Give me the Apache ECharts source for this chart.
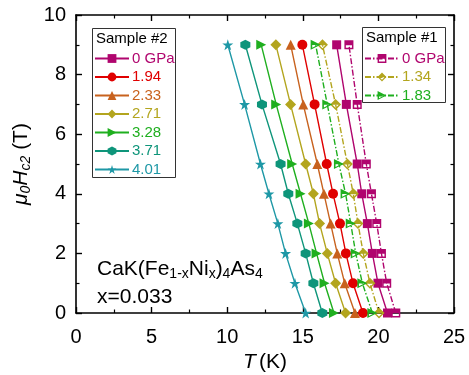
<!DOCTYPE html>
<html><head><meta charset="utf-8">
<script src="https://cdn.jsdelivr.net/npm/echarts@6/dist/echarts.min.js"></script>
<style>html,body{margin:0;padding:0;background:#fff}#c{width:469px;height:375px}</style>
</head><body><div id="c"></div>
<script>
// Magnetic field values (T)
const fields = [0, 1, 2, 3, 4, 5, 7, 9];
// Sample #2 temperatures (K) at each field
const s2_0    = [20.60, 19.97, 19.60, 19.27, 18.90, 18.60, 17.88, 17.24];
const s2_194  = [18.98, 18.32, 17.85, 17.46, 17.00, 16.58, 15.78, 14.97];
const s2_233  = [18.45, 17.77, 17.28, 16.84, 16.40, 15.96, 15.03, 14.20];
const s2_271  = [17.83, 17.17, 16.62, 16.11, 15.70, 15.19, 14.19, 13.22];
const s2_328  = [17.06, 16.44, 15.91, 15.40, 14.85, 14.30, 13.24, 12.25];
const s2_371  = [16.29, 15.70, 15.19, 14.64, 14.04, 13.53, 12.30, 11.20];
const s2_401  = [15.19, 14.48, 13.86, 13.35, 12.76, 12.20, 11.15, 10.04];
// Sample #1 temperatures (K)
const s1_0    = [21.15, 20.55, 20.20, 19.89, 19.54, 19.20, 18.60, 18.05];
const s1_134  = [20.04, 19.44, 19.00, 18.65, 18.34, 17.95, 17.17, 16.30];
const s1_183  = [19.60, 18.94, 18.50, 18.17, 17.83, 17.39, 16.62, 15.85];
const s2Labels = ['0 GPa', '1.94', '2.33', '2.71', '3.28', '3.71', '4.01'];
const s1Labels = ['0 GPa', '1.34', '1.83'];
const xTicks = [0, 5, 10, 15, 20, 25];
const yTicks = [0, 2, 4, 6, 8, 10];

const C = {
  p0: '#B0056E', p194: '#E00000', p233: '#C8621E', p271: '#B3A51E',
  p328: '#1FAF1F', p371: '#0E957A', p401: '#1E98A6'
};
const SYM = {
  rect: 'rect', circle: 'circle', tri: 'triangle', dia: 'diamond',
  right: 'path://M0,0 L10,5 L0,10 Z',
  hex: 'path://M5,0 L9.33,2.5 L9.33,7.5 L5,10 L0.67,7.5 L0.67,2.5 Z',
  star: 'path://M5,0 L6.18,3.62 L10,3.62 L6.91,5.86 L8.09,9.5 L5,7.24 L1.91,9.5 L3.09,5.86 L0,3.62 L3.82,3.62 Z',
  halfRect: 'path://M0,0 L10,0 L10,10 L0,10 Z M1.6,5.4 L1.6,8.4 L8.4,8.4 L8.4,5.4 Z',
  halfDia: 'path://M5,0 L10,5 L5,10 L0,5 Z M2.2,5.4 L5,8.2 L7.8,5.4 Z',
  halfRight: 'path://M0,0 L10,5 L0,10 Z M1.6,5.3 L1.6,8.0 L6.8,5.3 Z'
};
function pairs(ts) { return ts.map((t, i) => [t, fields[i]]); }
function mk(name, ts, color, sym, size, dashed) {
  return {
    name: name, type: 'line', data: pairs(ts), symbol: sym, symbolSize: size,
    color: color,
    itemStyle: { color: color, borderWidth: 0 },
    lineStyle: { color: color, width: 1.4, type: dashed ? [6, 2, 1.5, 2] : 'solid' },
    emphasis: { disabled: true }, animation: false, z: 3
  };
}
const series = [
  mk('S2 ' + s2Labels[0], s2_0,   C.p0,   SYM.rect, 9),
  mk('S2 ' + s2Labels[1], s2_194, C.p194, SYM.circle, 10),
  mk('S2 ' + s2Labels[2], s2_233, C.p233, SYM.tri, 10),
  mk('S2 ' + s2Labels[3], s2_271, C.p271, SYM.dia, 11),
  mk('S2 ' + s2Labels[4], s2_328, C.p328, SYM.right, 10),
  mk('S2 ' + s2Labels[5], s2_371, C.p371, SYM.hex, 10),
  mk('S2 ' + s2Labels[6], s2_401, C.p401, SYM.star, 11),
  mk('S1 ' + s1Labels[0], s1_0,   C.p0,   SYM.halfRect, 9, true),
  mk('S1 ' + s1Labels[1], s1_134, C.p271, SYM.halfDia, 11, true),
  mk('S1 ' + s1Labels[2], s1_183, C.p328, SYM.halfRight, 10, true)
];
const s2Colors = [C.p0, C.p194, C.p233, C.p271, C.p328, C.p371, C.p401];
const s1Colors = [C.p0, C.p271, C.p328];
const FONT = 'Liberation Sans, Arial, sans-serif';
const rich = {
  n: { fontSize: 21, fontFamily: FONT, color: '#000', lineHeight: 24 },
  i: { fontSize: 21, fontFamily: FONT, fontStyle: 'italic', color: '#000', lineHeight: 24 },
  sub: { fontSize: 14, fontFamily: FONT, color: '#000', verticalAlign: 'bottom', padding: [11, 0, 0, 0], lineHeight: 15 },
  isub: { fontSize: 14, fontFamily: FONT, fontStyle: 'italic', color: '#000', verticalAlign: 'bottom', padding: [11, 0, 0, 0], lineHeight: 15 }
};
function baseAxis(extra) {
  return Object.assign({
    type: 'value', splitLine: { show: false },
    axisLine: { show: true, onZero: false, lineStyle: { color: '#000', width: 1.6 } },
    axisTick: { show: true, inside: true, length: 6, lineStyle: { color: '#000', width: 1.4 } },
    minorTick: { show: true, splitNumber: 2, length: 3.5, lineStyle: { color: '#000', width: 1.2 } },
    axisLabel: { show: false }
  }, extra);
}
const legendCommon = {
  orient: 'vertical', itemWidth: 34, itemHeight: 11, itemGap: 3.5, padding: 0, z: 200,
  formatter: n => n.slice(3), selectedMode: false,
  textStyle: { fontSize: 15, fontFamily: FONT, lineHeight: 15, padding: [0, 0, 0, -2] }
};
const option = {
  backgroundColor: '#fff', animation: false,
  grid: { left: 76, right: 15, top: 15, bottom: 62, containLabel: false, outerBoundsMode: 'none' },
  xAxis: [
    baseAxis({ min: 0, max: 25, interval: 5, position: 'bottom',
      axisLabel: { show: true, fontSize: 20, fontFamily: FONT, color: '#000', margin: 14 },
      name: '{i|T} {n|(K)}', nameLocation: 'middle', nameGap: 37,
      nameTextStyle: { rich: rich } }),
    baseAxis({ min: 0, max: 25, interval: 5, position: 'top' })
  ],
  yAxis: [
    baseAxis({ min: 0, max: 10, interval: 2, position: 'left',
      axisLabel: { show: true, fontSize: 20, fontFamily: FONT, color: '#000', margin: 10 },
      name: '{i|μ}{isub|0}{i|H}{isub|c2}{n| (T)}', nameLocation: 'middle', nameGap: 38, nameRotate: 90,
      nameTextStyle: { rich: rich } }),
    baseAxis({ min: 0, max: 10, interval: 2, position: 'right' })
  ],
  legend: [
    Object.assign({}, legendCommon, {
      left: 94, top: 51,
      data: s2Labels.map((l, i) => ({ name: 'S2 ' + l, textStyle: { color: s2Colors[i] } }))
    }),
    Object.assign({}, legendCommon, {
      left: 364, top: 51,
      data: s1Labels.map((l, i) => ({ name: 'S1 ' + l, textStyle: { color: s1Colors[i] } }))
    })
  ],
  graphic: [
    { type: 'rect', z: 1, shape: { x: 92.5, y: 28.5, width: 83, height: 149 },
      style: { fill: '#fff', stroke: '#333', lineWidth: 1 } },
    { type: 'rect', z: 1, shape: { x: 362.5, y: 27.5, width: 83, height: 75 },
      style: { fill: '#fff', stroke: '#333', lineWidth: 1 } },
    { type: 'text', z: 60, left: 96, top: 31,
      style: { text: 'Sample #2', fontSize: 15, fontFamily: FONT, fill: '#000' } },
    { type: 'text', z: 60, left: 366, top: 30,
      style: { text: 'Sample #1', fontSize: 15, fontFamily: FONT, fill: '#000' } },
    { type: 'text', z: 60, left: 97, top: 256,
      style: { text: '{n|CaK(Fe}{sub|1-x}{n|Ni}{sub|x}{n|)}{sub|4}{n|As}{sub|4}', rich: rich } },
    { type: 'text', z: 60, left: 97, top: 287,
      style: { text: 'x=0.033', fontSize: 21, fontFamily: FONT, fill: '#000' } }
  ],
  series: series
};
const chart = echarts.init(document.getElementById('c'), null, { renderer: 'canvas' });
chart.setOption(option);
</script></body></html>
